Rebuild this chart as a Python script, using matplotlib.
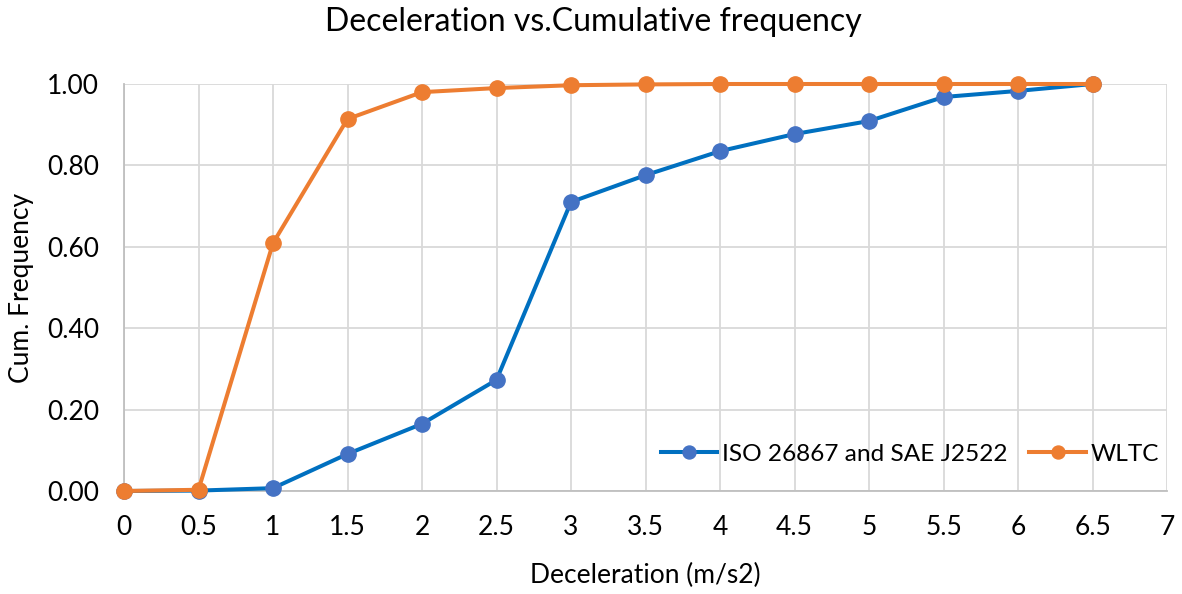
import matplotlib
matplotlib.use("Agg")
import matplotlib.pyplot as plt
from matplotlib.ticker import FormatStrFormatter, MultipleLocator, FuncFormatter

plt.rcParams['font.family'] = ['Lato', 'DejaVu Sans']

x = [0, 0.5, 1, 1.5, 2, 2.5, 3, 3.5, 4, 4.5, 5, 5.5, 6, 6.5]
iso = [0.0, 0.001, 0.007, 0.091, 0.165, 0.273, 0.710, 0.776, 0.835, 0.877, 0.909, 0.968, 0.983, 1.0]
wltc = [0.0, 0.003, 0.609, 0.914, 0.980, 0.990, 0.997, 0.999, 1.0, 1.0, 1.0, 1.0, 1.0, 1.0]
series_names = ["ISO 26867 and SAE J2522", "WLTC"]

W, H = 1182, 594
fig = plt.figure(figsize=(W/100, H/100), dpi=100)
L, R, T, B = 124, 1167, 84, 491
ax = fig.add_axes([L/W, 1-B/H, (R-L)/W, (B-T)/H])

ax.plot(x, iso, color='#0070C0', lw=2.9, marker='o', ms=11,
        markerfacecolor='#4472C4', markeredgecolor='#4472C4', label=series_names[0], zorder=3, clip_on=False)
ax.plot(x, wltc, color='#ED7D31', lw=2.9, marker='o', ms=11,
        markerfacecolor='#ED7D31', markeredgecolor='#ED7D31', label=series_names[1], zorder=4, clip_on=False)

ax.set_xlim(0, 7)
ax.set_ylim(0, 1.0)
ax.xaxis.set_major_locator(MultipleLocator(0.5))
ax.yaxis.set_major_locator(MultipleLocator(0.2))
ax.xaxis.set_major_formatter(FuncFormatter(lambda v, p: f"{v:g}"))
ax.yaxis.set_major_formatter(FormatStrFormatter('%.2f'))
ax.grid(True, color='#D9D9D9', lw=1.3)
ax.set_axisbelow(True)
for s in ['top', 'right']:
    ax.spines[s].set_visible(False)
for s in ['left', 'bottom']:
    ax.spines[s].set_color('#BFBFBF')
    ax.spines[s].set_linewidth(1.3)
ax.tick_params(length=0, labelsize=19, colors='#000000')
ax.tick_params(axis='x', pad=17)
ax.tick_params(axis='y', pad=18)

fig.suptitle("Deceleration vs.Cumulative frequency", x=593/W, y=1-22/H, va='center', ha='center', fontsize=23)
ax.set_xlabel("Deceleration (m/s2)", fontsize=19)
ax.xaxis.set_label_coords(0.5, (B-575)/(B-T))
ax.xaxis.label.set_va('center')
ax.set_ylabel("Cum. Frequency", fontsize=19)
ax.yaxis.set_label_coords((22-L)/(R-L), 0.5)
ax.yaxis.label.set_va('center')

ax.legend(loc='center right', ncol=2, frameon=False, fontsize=17.6,
          bbox_to_anchor=((1159-L)/(R-L), (B-454)/(B-T)), borderaxespad=0, borderpad=0,
          handlelength=2.3, columnspacing=0.9, handletextpad=0.2, markerscale=0.85)

fig.savefig("out.png", dpi=100)
